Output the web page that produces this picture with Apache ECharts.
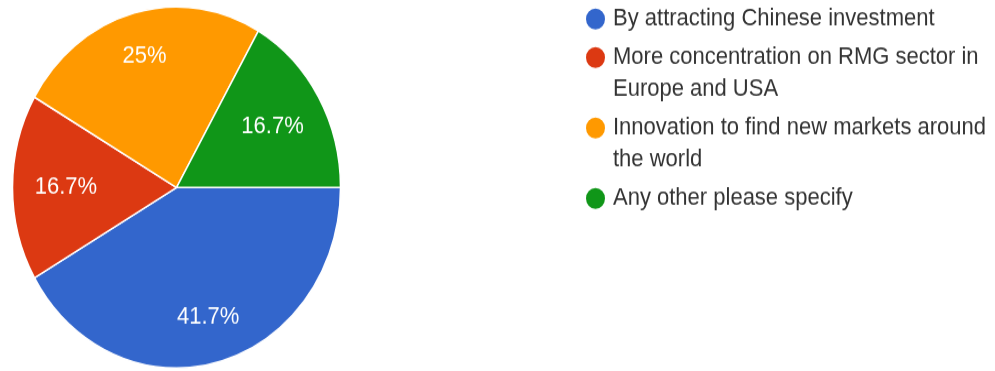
<!DOCTYPE html>
<html>
<head>
<meta charset="utf-8">
<script src="https://cdn.jsdelivr.net/npm/echarts@6/dist/echarts.min.js"></script>
<style>
  html, body { margin: 0; padding: 0; background: #fff; overflow: hidden; }
  #wrap { width: 995px; height: 371px; overflow: hidden; }
  /* the chart is drawn slightly squat and stretched vertically to an oval pie */
  #chart { width: 995px; height: 337px; transform: scaleY(1.10089); transform-origin: 0 0; }
</style>
</head>
<body>
<div id="wrap"><div id="chart"></div></div>
<script>
// Survey answers and their share of responses (%)
const categories = [
  'By attracting Chinese investment',
  'More concentration on RMG sector in Europe and USA',
  'Innovation to find new markets around the world',
  'Any other please specify'
];
const shares = [41.7, 16.7, 25, 16.7];
const palette = ['#3366cc', '#dc3912', '#ff9900', '#109618'];

const FONT = 'Arial, "Liberation Sans", sans-serif';
const PIE_CX = 176.5, PIE_CY = 170.3, PIE_R = 164;

// word-wrap legend names to the legend column width
const measureCtx = document.createElement('canvas').getContext('2d');
measureCtx.font = '22px ' + FONT;
function wrapText(text, maxWidth) {
  const words = text.split(' ');
  const lines = [];
  let line = '';
  words.forEach(function (w) {
    const test = line ? line + ' ' + w : w;
    if (line && measureCtx.measureText(test).width > maxWidth) {
      lines.push(line);
      line = w;
    } else {
      line = test;
    }
  });
  if (line) lines.push(line);
  return lines;
}

// one legend block per answer; blank lead lines keep the marker level with
// the first text line (legend text is centred on its marker)
const LINE_H = 29, ITEM_STEP = 35, FIRST_CENTER = 17.2;
let markerY = FIRST_CENTER;
const legends = categories.map(function (name) {
  const lines = wrapText(name, 380);
  const n = lines.length;
  const top = markerY - (n - 0.5) * LINE_H;
  markerY += (n - 1) * LINE_H + ITEM_STEP;
  const shown = new Array(n).join('\n') + lines.join('\n');
  return {
    data: [name],
    orient: 'vertical',
    left: 584,
    top: top,
    padding: 0,
    icon: 'circle',
    itemWidth: 25,
    itemHeight: 21,
    selectedMode: false,
    formatter: function () { return shown; },
    textStyle: {
      fontFamily: FONT,
      fontSize: 22,
      color: '#333',
      lineHeight: LINE_H,
      backgroundColor: 'transparent'
    }
  };
});

const total = shares.reduce(function (a, b) { return a + b; }, 0);

const chart = echarts.init(document.getElementById('chart'), null, { renderer: 'canvas' });
chart.setOption({
  animation: false,
  backgroundColor: '#fff',
  color: palette,
  legend: legends,
  series: [{
    type: 'pie',
    center: [PIE_CX, PIE_CY],
    radius: PIE_R,
    startAngle: 0,
    clockwise: true,
    avoidLabelOverlap: false,
    silent: true,
    itemStyle: { borderColor: '#fff', borderWidth: 1.5 },
    label: {
      show: true,
      position: 'inside',
      formatter: function (p) { return p.value + '%'; },
      fontFamily: FONT,
      fontSize: 22,
      color: '#fff',
      textBorderWidth: 0
    },
    labelLine: { show: false },
    // labels sit further out in the slice, pulled in by their own width
    labelLayout: function (p) {
      let before = 0;
      for (let k = 0; k < p.dataIndex; k++) before += shares[k];
      const th = (before + shares[p.dataIndex] / 2) / total * 2 * Math.PI;
      const c = Math.cos(th), s = Math.sin(th);
      const reach = p.labelRect.width / 2 * Math.abs(c) + 7.3 * Math.abs(s);
      const r = 133 - 0.72 * reach;
      return { x: PIE_CX + r * c, y: PIE_CY + r * s, align: 'center', verticalAlign: 'middle' };
    },
    data: categories.map(function (name, i) {
      return { name: name, value: shares[i] };
    })
  }]
});
</script>
</body>
</html>
